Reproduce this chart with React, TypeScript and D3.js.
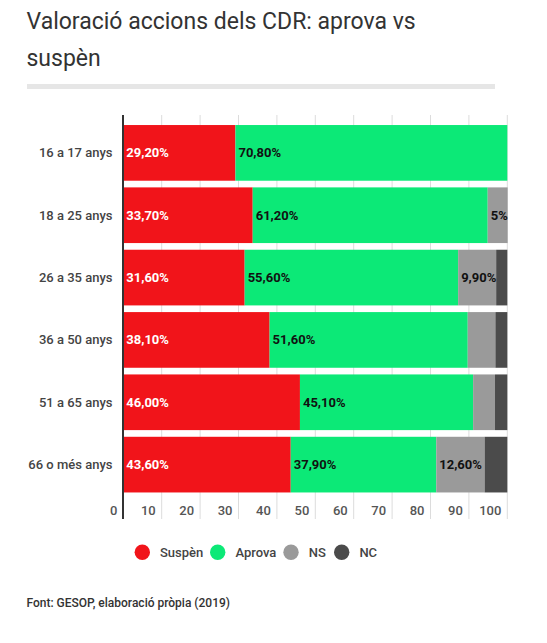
import React from "react";
import * as d3 from "d3";

const categories = ["16 a 17 anys", "18 a 25 anys", "26 a 35 anys", "36 a 50 anys", "51 a 65 anys", "66 o més anys"];
const seriesNames = ["Suspèn", "Aprova", "NS", "NC"];
const suspen = [29.2, 33.7, 31.6, 38.1, 46.0, 43.6];
const aprova = [70.8, 61.2, 55.6, 51.6, 45.1, 37.9];
const ns = [0, 5, 9.9, 7.2, 5.7, 12.6];
const nc = [0, 0.1, 2.9, 3.1, 3.2, 5.9];
const suspenLabels = ["29,20%", "33,70%", "31,60%", "38,10%", "46,00%", "43,60%"];
const aprovaLabels = ["70,80%", "61,20%", "55,60%", "51,60%", "45,10%", "37,90%"];
const nsLabels = ["", "5%", "9,90%", "", "", "12,60%"];
const ncLabels = ["", "", "", "", "", ""];
const xTicks = [0, 10, 20, 30, 40, 50, 60, 70, 80, 90, 100];
const colors = ["#f1141a", "#0ce977", "#9a9a9a", "#4b4b4b"];
const labelColors = ["#ffffff", "#111111", "#111111", "#ffffff"];

const font = "Roboto, 'Noto Sans', sans-serif";

export default function App() {
  const W = 547, H = 643;
  const x = d3.scaleLinear().domain([0, 100]).range([123.3, 507.3]);
  const y = d3.scaleBand<string>().domain(categories).range([121.7, 495.8]).paddingInner(0.107).paddingOuter(0.0535);
  const values = [suspen, aprova, ns, nc];
  const labels = [suspenLabels, aprovaLabels, nsLabels, ncLabels];
  const rows = categories.map((c, i) => {
    const o: any = { cat: c };
    seriesNames.forEach((s, j) => (o[s] = values[j][i]));
    return o;
  });
  const stacked = d3.stack<any>().keys(seriesNames)(rows);

  const legendX = [142.3, 217.7, 291, 341.7];

  return (
    <svg width={W} height={H} style={{ position: "absolute", left: 0, top: 0, background: "#fff" }} fontFamily={font}>
      <text x={26.5} y={28.5} fontSize={23} fill="#333">Valoració accions dels CDR: aprova vs</text>
      <text x={26.5} y={65.5} fontSize={23} fill="#333">suspèn</text>
      <rect x={27} y={84} width={468} height={5} fill="#e6e6e6" />

      {xTicks.map((t) => (
        <g key={t}>
          {t > 0 && <line x1={x(t)} x2={x(t)} y1={115} y2={519} stroke="#dcdcdc" strokeWidth={1} />}
          <text x={x(t) - 6} y={515} textAnchor="end" fontSize={13} fontWeight={500} fill="#555">{t}</text>
        </g>
      ))}

      {stacked.map((layer, j) => (
        <g key={layer.key}>
          {layer.map((d, i) => {
            const w = x(d[1]) - x(d[0]);
            if (w <= 0) return null;
            return (
              <rect key={i} x={x(d[0])} y={y(categories[i])} width={w} height={y.bandwidth()} fill={colors[j]} />
            );
          })}
        </g>
      ))}

      {stacked.map((layer, j) => (
        <g key={"l" + layer.key}>
          {layer.map((d, i) => {
            const lab = labels[j][i];
            if (!lab) return null;
            return (
              <text key={i} x={x(d[0]) + 3} y={(y(categories[i]) as number) + y.bandwidth() / 2} dy="0.35em"
                fontSize={13} fontWeight={700} fill={labelColors[j]}>{lab}</text>
            );
          })}
        </g>
      ))}

      <line x1={123} x2={123} y1={115} y2={519} stroke="#333" strokeWidth={2} />

      {categories.map((c) => (
        <text key={c} x={112.5} y={(y(c) as number) + y.bandwidth() / 2} dy="0.35em" textAnchor="end"
          fontSize={13} fontWeight={500} fill="#444">{c}</text>
      ))}

      {seriesNames.map((s, j) => (
        <g key={s}>
          <circle cx={legendX[j]} cy={552.3} r={7.7} fill={colors[j]} />
          <text x={legendX[j] + 17.7} y={552.3} dy="0.35em" fontSize={13} fontWeight={500} fill="#444">{s}</text>
        </g>
      ))}

      <text x={26.5} y={607} fontSize={12} fontWeight={500} fill="#333">Font: GESOP, elaboració pròpia (2019)</text>
    </svg>
  );
}
